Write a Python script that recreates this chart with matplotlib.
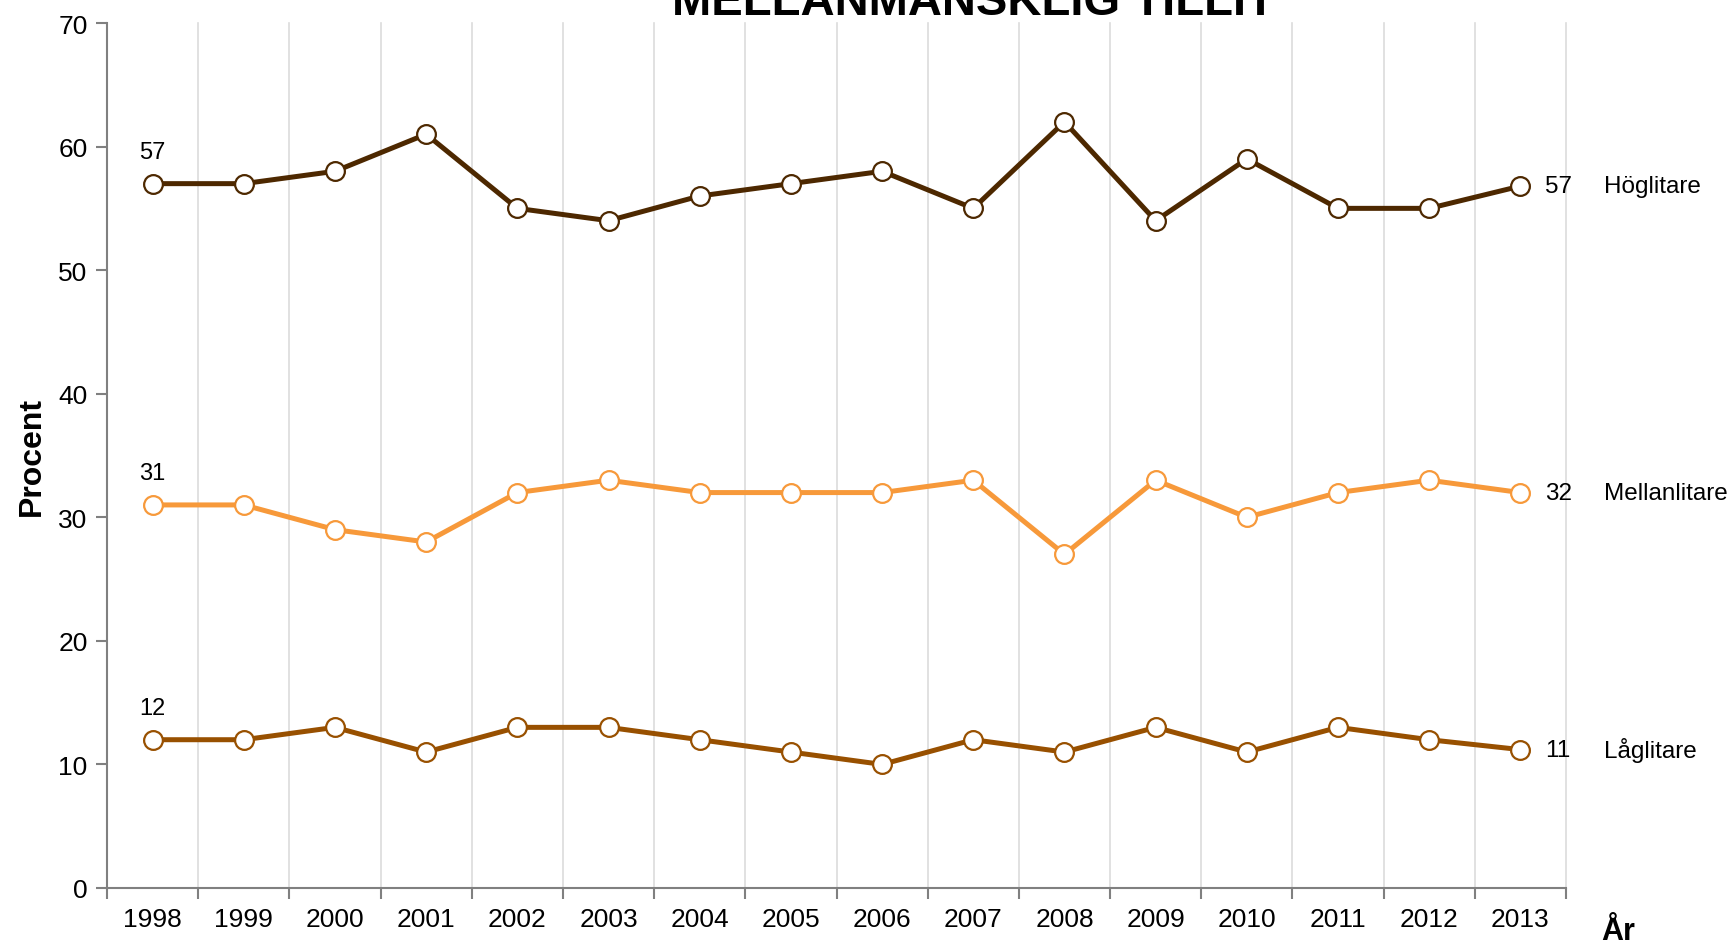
import matplotlib.pyplot as plt
import numpy as np

years = ['1998', '1999', '2000', '2001', '2002', '2003', '2004', '2005',
         '2006', '2007', '2008', '2009', '2010', '2011', '2012', '2013']
hog = [57, 57, 58, 61, 55, 54, 56, 57, 58, 55, 62, 54, 59, 55, 55, 56.8]
mellan = [31, 31, 29, 28, 32, 33, 32, 32, 32, 33, 27, 33, 30, 32, 33, 32]
lag = [12, 12, 13, 11, 13, 13, 12, 11, 10, 12, 11, 13, 11, 13, 12, 11.2]
names = ['Höglitare', 'Mellanlitare', 'Låglitare']
colors = ['#4d2800', '#f7993a', '#985000']

plt.rcParams['font.family'] = ['Liberation Sans', 'DejaVu Sans']

f = plt.figure(figsize=(17.3, 9.45), dpi=100)
ax = f.add_axes([107/1730, 1 - 889/945, (1566 - 107)/1730, (889 - 24)/945])

x = np.arange(len(years))
for k in range(1, len(years) + 1):
    ax.axvline(k - 0.5, color='#dcdcdc', lw=1.2, zorder=0, clip_on=False)

for vals, name, c in zip([hog, mellan, lag], names, colors):
    ax.plot(x, vals, color=c, lw=3.6, marker='o', ms=13.5, mfc='white',
            mec=c, mew=1.6, zorder=3, clip_on=False)
    ax.annotate(f'{vals[0]:.0f}', (x[0], vals[0]), xytext=(0, 15),
                textcoords='offset points', ha='center', va='bottom', fontsize=17)
    ax.annotate(f'{vals[-1]:.0f}', (x[-1], vals[-1]), xytext=(18, 0),
                textcoords='offset points', ha='left', va='center', fontsize=17.5,
                annotation_clip=False)
    ax.annotate(name, (x[-1], vals[-1]), xytext=(60, 0),
                textcoords='offset points', ha='left', va='center', fontsize=17.5,
                annotation_clip=False)

ax.set_xlim(-0.5, len(years) - 0.5)
ax.set_ylim(0, 70)
ax.set_yticks(range(0, 71, 10))
ax.set_xticks(x)
ax.set_xticklabels(years, fontsize=19)
ax.set_xticks(np.arange(-0.5, len(years)), minor=True)
ax.tick_params(axis='x', which='major', length=0, pad=14)
ax.tick_params(axis='x', which='minor', length=8, color='#808080', width=1.5)
ax.tick_params(axis='y', labelsize=19, length=8, color='#808080', width=1.5, pad=6)
for s in ['top', 'right']:
    ax.spines[s].set_visible(False)
for s in ['left', 'bottom']:
    ax.spines[s].set_color('#808080')
    ax.spines[s].set_linewidth(1.5)

ax.set_ylabel('Procent', fontsize=23, fontweight='bold', labelpad=8)
f.text(1618/1730, 1 - 932/945, 'År', fontsize=22, fontweight='bold',
       ha='center', va='center')
f.text(973/1730, 1 - 15/945, 'MELLANMÄNSKLIG TILLIT', fontsize=34,
       fontweight='bold', ha='center', va='baseline')

plt.savefig('out.png', dpi=100)
